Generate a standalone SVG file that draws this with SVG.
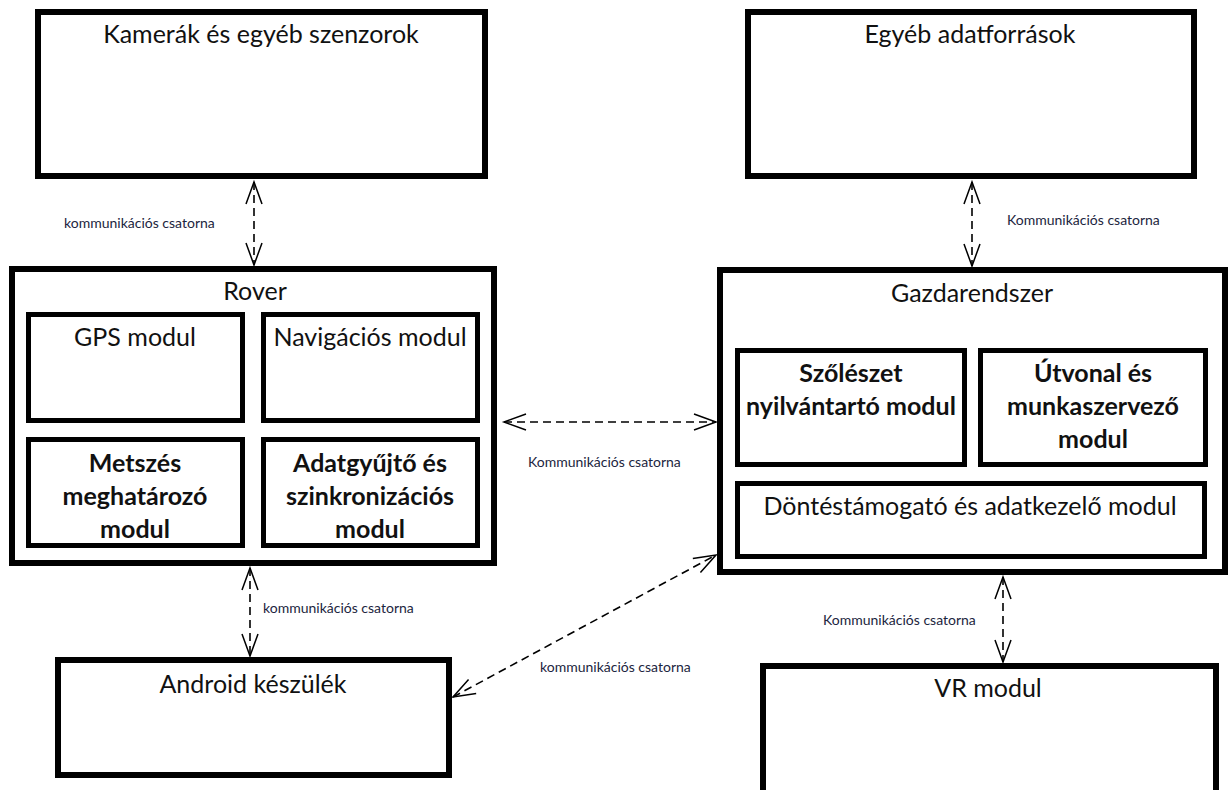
<svg xmlns="http://www.w3.org/2000/svg" width="1229" height="790" viewBox="0 0 1229 790">
<style>
.box{fill:#fff;stroke:#000;stroke-width:6}
.inner{fill:#fff;stroke:#000;stroke-width:5}
.t{font-family:Lato,"Liberation Sans",sans-serif;font-size:25px;fill:#111;text-anchor:middle}
.b{font-weight:bold}
.lbl{font-family:Lato,"Liberation Sans",sans-serif;font-size:14px;fill:#1c2540}
.c{fill:none;stroke:#000;stroke-width:1.6;stroke-dasharray:8 5}
</style>
<defs>
<marker id="ah" markerUnits="userSpaceOnUse" markerWidth="30" markerHeight="24" viewBox="-24 -12 30 24" refX="0" refY="0" orient="auto-start-reverse">
<path d="M -22,-8 L 0,0 L -22,8" fill="none" stroke="#000" stroke-width="1.5"/>
</marker>
</defs>
<rect width="1229" height="790" fill="#fff"/>
<g id="kamerak">
<rect class="box" x="38" y="12" width="447" height="164"/>
<text class="t" x="261" y="43">Kamerák és egyéb szenzorok</text>
</g>
<g id="egyeb">
<rect class="box" x="748" y="12" width="446" height="164"/>
<text class="t" x="970" y="43">Egyéb adatforrások</text>
</g>
<g id="rover">
<rect class="box" x="12" y="269" width="482" height="294"/>
<text class="t" x="255" y="300">Rover</text>
</g>
<g id="gps">
<rect class="inner" x="28.5" y="314.5" width="214" height="106"/>
<text class="t" x="135" y="346">GPS modul</text>
</g>
<g id="navigacios">
<rect class="inner" x="263.5" y="314.5" width="214" height="106"/>
<text class="t" x="370" y="346">Navigációs modul</text>
</g>
<g id="metszes">
<rect class="inner" x="28.5" y="439.5" width="214" height="106"/>
<text class="t b" x="135" y="472">Metszés</text>
<text class="t b" x="135" y="505">meghatározó</text>
<text class="t b" x="135" y="538">modul</text>
</g>
<g id="adatgyujto">
<rect class="inner" x="263.5" y="439.5" width="214" height="106"/>
<text class="t b" x="370" y="472">Adatgyűjtő és</text>
<text class="t b" x="370" y="505">szinkronizációs</text>
<text class="t b" x="370" y="538">modul</text>
</g>
<g id="gazdarendszer">
<rect class="box" x="720" y="270" width="505" height="302"/>
<text class="t" x="972" y="302">Gazdarendszer</text>
</g>
<g id="szoleszet">
<rect class="inner" x="737.5" y="350.5" width="227" height="114"/>
<text class="t b" x="851" y="382">Szőlészet</text>
<text class="t b" x="851" y="415">nyilvántartó modul</text>
</g>
<g id="utvonal">
<rect class="inner" x="980.5" y="350.5" width="225" height="114"/>
<text class="t b" x="1093" y="382">Útvonal és</text>
<text class="t b" x="1093" y="415">munkaszervező</text>
<text class="t b" x="1093" y="448">modul</text>
</g>
<g id="dontestamogato">
<rect class="inner" x="737.5" y="483.5" width="467" height="73"/>
<text class="t" x="970" y="515">Döntéstámogató és adatkezelő modul</text>
</g>
<g id="android">
<rect class="box" x="58" y="660" width="391" height="115"/>
<text class="t" x="253" y="693">Android készülék</text>
</g>
<g id="vr">
<rect class="box" x="763" y="666" width="453" height="140"/>
<text class="t" x="988" y="697">VR modul</text>
</g>
<g id="connectors">
<line class="c" x1="254" y1="182" x2="254" y2="265" marker-start="url(#ah)" marker-end="url(#ah)"/>
<line class="c" x1="972" y1="182" x2="972" y2="266" marker-start="url(#ah)" marker-end="url(#ah)"/>
<line class="c" x1="504" y1="422" x2="716" y2="422" marker-start="url(#ah)" marker-end="url(#ah)"/>
<line class="c" x1="250" y1="568" x2="250" y2="656" marker-start="url(#ah)" marker-end="url(#ah)"/>
<line class="c" x1="453" y1="697" x2="716" y2="555" marker-start="url(#ah)" marker-end="url(#ah)"/>
<line class="c" x1="1003" y1="577" x2="1003" y2="662" marker-start="url(#ah)" marker-end="url(#ah)"/>
<text class="lbl" x="64" y="228">kommunikációs csatorna</text>
<text class="lbl" x="1007" y="225">Kommunikációs csatorna</text>
<text class="lbl" x="528" y="467">Kommunikációs csatorna</text>
<text class="lbl" x="263" y="613">kommunikációs csatorna</text>
<text class="lbl" x="540" y="672">kommunikációs csatorna</text>
<text class="lbl" x="823" y="625">Kommunikációs csatorna</text>
</g>
</svg>
